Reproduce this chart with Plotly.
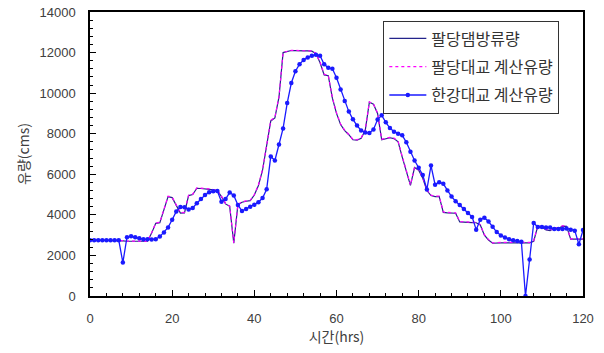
import plotly.graph_objects as go

# Hourly time axis (hrs)
hours = list(range(0, 121))

# 팔당댐 방류량 (cms)
dam_outflow = [
    2750, 2750, 2750, 2750, 2750, 2750, 2750, 2750, 2720, 2700,
    2700, 2700, 2700, 2700, 2700, 3100, 3580, 3610, 4300, 4900,
    4850, 4500, 4090, 4100, 4950, 5000, 5310, 5300, 5290, 5260,
    5230, 5200, 4900, 4540, 4420, 2600, 4500, 4620, 4670, 4700,
    4980, 5450, 6200, 7500, 8630, 8780, 9800, 12000, 12050, 12100,
    12100, 12080, 12080, 12080, 12070, 11950, 11500, 10900, 10860, 9750,
    9000, 8450, 8150, 7950, 7700, 7680, 7780, 8170, 9550, 9450,
    9000, 7700, 7760, 7800, 7760, 7600, 6850, 6100, 5450, 6330,
    6200, 5800, 5200, 4950, 4900, 4900, 4120, 4100, 4100, 4080,
    3650, 3630, 3620, 3620, 3610, 3500, 3000, 2760, 2600, 2620,
    2620, 2620, 2620, 2620, 2620, 2620, 2620, 2620, 2700, 3450,
    3400, 3260, 3220, 3350, 3330, 3440, 3430, 2800, 2800, 2800,
    2800,
]

# 팔당대교 계산유량 (cms)
bridge_flow = [
    2760, 2760, 2760, 2760, 2760, 2760, 2760, 2760, 2730, 2710,
    2710, 2710, 2710, 2710, 2710, 3120, 3600, 3630, 4330, 4920,
    4870, 4520, 4110, 4120, 4970, 5020, 5330, 5320, 5310, 5280,
    5250, 5220, 4920, 4560, 4440, 2620, 4520, 4640, 4690, 4720,
    5000, 5480, 6230, 7540, 8660, 8810, 9830, 12010, 12060, 12110,
    12110, 12090, 12090, 12090, 12080, 11970, 11530, 10930, 10880, 9780,
    9030, 8480, 8170, 7970, 7720, 7700, 7800, 8190, 9570, 9470,
    9020, 7730, 7780, 7820, 7780, 7620, 6880, 6130, 5480, 6350,
    6220, 5830, 5230, 4970, 4920, 4920, 4140, 4120, 4120, 4100,
    3670, 3650, 3640, 3640, 3630, 3520, 3020, 2780, 2620, 2640,
    2640, 2640, 2640, 2640, 2640, 2640, 2640, 2640, 2720, 3470,
    3420, 3280, 3240, 3370, 3350, 3460, 3450, 2820, 2820, 2820,
    2820,
]

# 한강대교 계산유량 (cms)
hangang_flow = [
    2750, 2750, 2750, 2750, 2750, 2750, 2750, 2750, 1650, 2900,
    2950, 2900, 2850, 2800, 2800, 2790, 2800, 2930, 3130, 3380,
    3760, 4170, 4390, 4370, 4270, 4340, 4570, 4780, 4980, 5110,
    5160, 5180, 4650, 4780, 5100, 4960, 4490, 4190, 4290, 4400,
    4500, 4620, 4830, 5260, 6880, 6680, 7470, 8260, 9510, 10500,
    11080, 11430, 11630, 11760, 11840, 11890, 11840, 11420, 11250, 11200,
    10760, 10180, 9610, 9090, 8710, 8400, 8160, 8060, 8030, 8210,
    8700, 8910, 8560, 8280, 8100, 8000, 7920, 7580, 7110, 6680,
    6320, 5970, 5250, 6430, 5490, 5610, 5530, 5200, 4900, 4670,
    4490, 4290, 4090, 3900, 3270, 3760, 3860, 3670, 3410, 3150,
    2980, 2880, 2800, 2750, 2710, 2670, 0, 1800, 3600, 3400,
    3400, 3380, 3380, 3300, 3300, 3300, 3330, 3270, 3220, 2550,
    3250,
]

x_ticks = [0, 20, 40, 60, 80, 100, 120]
y_ticks = [0, 2000, 4000, 6000, 8000, 10000, 12000, 14000]

FONT = "Liberation Sans, Noto Sans CJK KR, sans-serif"
KR_FONT = "'Noto Sans CJK KR', sans-serif"
TEXT_COLOR = "#404040"

fig = go.Figure()

fig.add_trace(go.Scatter(
    x=hours, y=dam_outflow, mode="lines", name="팔당댐방류량",
    legendgroup="a",
    line=dict(color="#23238a", width=1.2),
))
fig.add_trace(go.Scatter(
    x=hours, y=bridge_flow, mode="lines", name="팔당대교 계산유량",
    legendgroup="b",
    line=dict(color="#ff00ff", width=1.2, dash="dot"),
))
fig.add_trace(go.Scatter(
    x=hours, y=hangang_flow, mode="lines+markers", name="한강대교 계산유량",
    legendgroup="c",
    line=dict(color="#1a1aff", width=1.3),
    marker=dict(color="#1a1aff", size=4.5, symbol="circle"),
))

axis_common = dict(
    showline=True, linecolor="black", linewidth=1.5, mirror=True,
    ticks="inside", tickcolor="black", ticklen=6, tickwidth=1,
    showgrid=False, zeroline=False, automargin=False,
    tickfont=dict(family=FONT, size=13, color=TEXT_COLOR),
)

fig.update_xaxes(
    range=[0, 120], tickvals=x_ticks, ticktext=[str(v) for v in x_ticks],
    minor=dict(ticks="inside", ticklen=3.5, tickcolor="black", dtick=4),
    ticklabelstandoff=10,
    title=dict(text="시간(hrs)", font=dict(family=KR_FONT, size=14, color=TEXT_COLOR), standoff=0),
    **axis_common,
)
fig.update_yaxes(
    range=[0, 14000], tickvals=y_ticks, ticktext=[str(v) for v in y_ticks],
    minor=dict(ticks="inside", ticklen=3.5, tickcolor="black", dtick=400),
    ticklabelstandoff=10,
    title=dict(text="유량(cms)", font=dict(family=KR_FONT, size=14, color=TEXT_COLOR), standoff=7),
    **axis_common,
)

fig.update_layout(
    width=604, height=353,
    margin=dict(l=90, r=21, t=12, b=57),
    paper_bgcolor="white", plot_bgcolor="white",
    showlegend=True,
    legend=dict(
        x=0.595, y=0.97, xanchor="left", yanchor="top",
        bgcolor="white", bordercolor="#333333", borderwidth=1,
        font=dict(family=KR_FONT, size=16, color="#333333"),
        tracegroupgap=4.5, itemwidth=37,
    ),
)

fig.write_html("out.html")
